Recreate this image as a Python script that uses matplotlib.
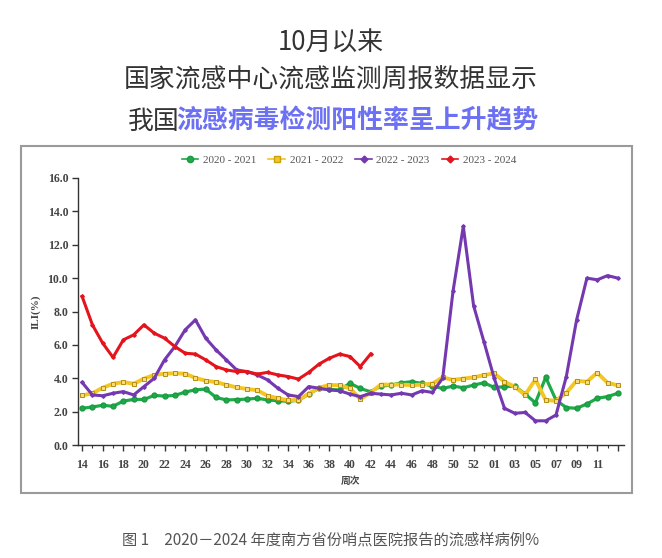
import matplotlib.pyplot as plt
from matplotlib.patches import Rectangle
from matplotlib.lines import Line2D

plt.rcParams['font.family'] = ['Noto Sans CJK SC', 'DejaVu Sans']

# weeks 14..53 then 01..13
weeks = list(range(14, 54)) + list(range(1, 14))
x = list(range(len(weeks)))

ili_2020 = [2.2, 2.28, 2.38, 2.32, 2.63, 2.73, 2.73, 2.97, 2.93, 2.97,
            3.17, 3.31, 3.35, 2.85, 2.7, 2.72, 2.75, 2.8, 2.7, 2.65,
            2.62, 2.68, 3.05, 3.4, 3.33, 3.3, 3.7, 3.39, 3.19, 3.53,
            3.59, 3.73, 3.79, 3.69, 3.53, 3.39, 3.53, 3.43, 3.59, 3.73,
            3.45, 3.49, 3.53, 3.05, 2.53, 4.05, 2.69, 2.24, 2.2, 2.46,
            2.8, 2.9, 3.1]
ili_2021 = [2.97, 3.1, 3.43, 3.67, 3.77, 3.67, 3.97, 4.2, 4.27, 4.3,
            4.27, 4.02, 3.85, 3.77, 3.6, 3.45, 3.36, 3.28, 2.95, 2.8,
            2.68, 2.7, 3.08, 3.43, 3.6, 3.58, 3.39, 2.75, 3.13, 3.62,
            3.62, 3.62, 3.58, 3.62, 3.68, 4.05, 3.9, 3.98, 4.05, 4.19,
            4.29, 3.79, 3.49, 3.0, 3.93, 2.69, 2.65, 3.13, 3.85, 3.79,
            4.33, 3.73, 3.57]
ili_2022 = [3.75, 3.0, 2.95, 3.1, 3.2, 3.0, 3.5, 4.0, 5.1, 5.9,
            6.9, 7.5, 6.4, 5.7, 5.1, 4.5, 4.4, 4.2, 3.9, 3.4,
            3.0, 2.9, 3.5, 3.4, 3.3, 3.25, 3.05, 2.9, 3.1, 3.05,
            3.0, 3.1, 3.0, 3.25, 3.15, 4.0, 9.2, 13.1, 8.35, 6.2,
            4.0, 2.2, 1.9, 1.95, 1.45, 1.45, 1.8, 4.1, 7.5, 10.0,
            9.9, 10.15, 10.0]
ili_2023 = [8.9, 7.2, 6.1, 5.25, 6.3, 6.6, 7.2, 6.7, 6.4, 5.9,
            5.5, 5.45, 5.1, 4.7, 4.5, 4.4, 4.4, 4.25, 4.35, 4.2,
            4.1, 3.95, 4.35, 4.85, 5.2, 5.45, 5.3, 4.7, 5.45]

fig = plt.figure(figsize=(6.62, 5.58), dpi=100)

# title block
tc = '#333333'
fs = 18.6
fig.text(0.5, 1 - 42 / 558, '10月以来', ha='center', va='center', fontsize=fs, color=tc)
fig.text(0.5, 1 - 79 / 558, '国家流感中心流感监测周报数据显示', ha='center', va='center',
         fontsize=fs, color=tc)
fig.text(180 / 662, 1 - 121 / 558, '我国', ha='right', va='center', fontsize=fs, color=tc)
fig.text(176 / 662, 1 - 121 / 558, '流感病毒检测阳性率呈上升趋势', ha='left', va='center',
         fontsize=fs, color='#6c70f2', fontweight='bold')

# chart frame
fig.patches.append(Rectangle((21 / 662, 1 - 493 / 558), 611 / 662, 347 / 558,
                             transform=fig.transFigure, fill=False,
                             edgecolor='#9a9a9a', linewidth=1.5))

ax = fig.add_axes([78 / 662, 1 - 445 / 558, 546 / 662, 267 / 558])
ax.plot(x, ili_2020, color='#1faa4a', lw=2.3, marker='o', ms=3.5, mfc='#1faa4a',
        mec='#1a9a40', label='2020 - 2021')
ax.plot(x, ili_2021, color='#f3c623', lw=2.8, marker='s', ms=3.2, mfc='#f6dc80',
        mec='#b58f10', mew=0.7, label='2021 - 2022')
ax.plot(x, ili_2022, color='#7438b0', lw=2.2, marker='D', ms=1.8, label='2022 - 2023')
ax.plot(x[:len(ili_2023)], ili_2023, color='#e5141c', lw=2.2, marker='D', ms=1.8,
        label='2023 - 2024')

ax.set_xlim(-0.4, 52.6)
ax.set_ylim(0, 16)
for s in ['top', 'right']:
    ax.spines[s].set_visible(False)
for s in ['left', 'bottom']:
    ax.spines[s].set_color('#333333')
    ax.spines[s].set_linewidth(1.0)

ax.set_yticks([i * 2.0 for i in range(9)])
ax.set_yticklabels(['%.1f' % (i * 2.0) for i in range(9)])
major = list(range(0, 53, 2))
ax.set_xticks(major)
ax.set_xticklabels(['%02d' % weeks[i] if i <= 50 else '' for i in major])
ax.set_xticks(x, minor=True)
ax.tick_params(axis='both', which='major', length=4, width=1, color='#333333',
               labelsize=8.6, labelcolor='#444444', pad=3)
ax.tick_params(axis='x', which='minor', length=2, width=0.8, color='#333333')
ax.tick_params(axis='x', which='major', pad=6)
for lab in ax.get_xticklabels() + ax.get_yticklabels():
    lab.set_family('Liberation Serif')
    lab.set_fontweight('bold')

ax.set_ylabel('ILI(%)', family='Liberation Serif', fontweight='bold', fontsize=8,
              color='#444444', labelpad=5)
ax.set_xlabel('周次', fontsize=7, fontweight='bold', color='#444444', labelpad=4)

handles = [
    Line2D([], [], color='#1faa4a', lw=1.2, marker='o', ms=4.5, mfc='#1faa4a', mec='#1a9a40'),
    Line2D([], [], color='#f3c623', lw=1.2, marker='s', ms=4, mfc='#f3c623', mec='#c9a010'),
    Line2D([], [], color='#7438b0', lw=1.2, marker='D', ms=3.5),
    Line2D([], [], color='#e5141c', lw=1.2, marker='D', ms=3.5),
]
leg = fig.legend(handles, ['2020 - 2021', '2021 - 2022', '2022 - 2023', '2023 - 2024'],
                 loc='center', bbox_to_anchor=(349 / 662, 1 - 160 / 558), ncol=4,
                 frameon=False, handlelength=1.5, columnspacing=1.1, handletextpad=0.4,
                 prop={'family': 'Liberation Serif', 'size': 8})
for t in leg.get_texts():
    t.set_color('#555555')

fig.text(0.5, 1 - 540 / 558, '图 1　2020－2024 年度南方省份哨点医院报告的流感样病例%',
         ha='center', va='center', fontsize=11, color='#555555')

fig.savefig('out.png', dpi=100, facecolor='white')
